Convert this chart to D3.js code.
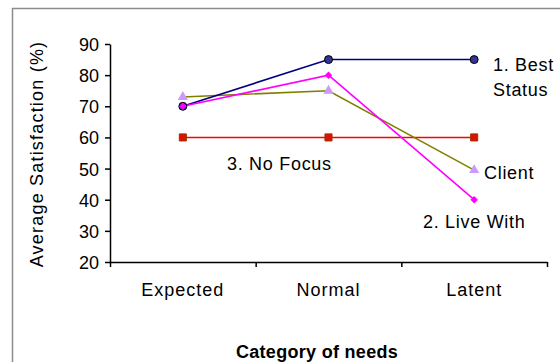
<!DOCTYPE html>
<html>
<head>
<meta charset="utf-8">
<script src="https://cdn.jsdelivr.net/npm/d3@7"></script>
<style>
    body { margin: 0; background: #fff; }
    #chart { width: 560px; height: 362px; }
    text { font-family: "Liberation Sans", Arial, sans-serif; fill: #000; }
</style>
</head>
<body>
<div id="chart"></div>
<script>
// Chart data
const categories = ['Expected', 'Normal', 'Latent'];
const bestStatus = [70, 85, 85];
const liveWith = [70, 80, 40];
const client = [73, 75, 49.5];
const noFocus = [60, 60, 60];
const yTicks = [20, 30, 40, 50, 60, 70, 80, 90];

const seriesNames = ['1. Best Status', '2. Live With', 'Client', '3. No Focus'];

// Set up dimensions
const width = 560, height = 362;
const plot = { left: 110, right: 547, top: 44, bottom: 262 };

const svg = d3.select('#chart')
    .append('svg')
    .attr('width', width)
    .attr('height', height);

// Outer frame
svg.append('rect')
    .attr('x', 12.5)
    .attr('y', 8.5)
    .attr('width', 600)
    .attr('height', 400)
    .attr('fill', '#fff')
    .attr('stroke', '#8c8c8c')
    .attr('stroke-width', 1.5);

// Scales
const xScale = d3.scaleBand()
    .domain(categories)
    .range([plot.left, plot.right]);

const xEdges = d3.scaleLinear()
    .domain([0, categories.length])
    .range([plot.left, plot.right]);

const yScale = d3.scaleLinear()
    .domain([20, 90])
    .range([plot.bottom, plot.top]);

const xPos = i => xScale(categories[i]) + xScale.bandwidth() / 2;

// Y axis
const yAxis = svg.append('g')
    .attr('transform', `translate(${plot.left},0)`)
    .call(d3.axisLeft(yScale)
        .tickValues(yTicks)
        .tickSize(5)
        .tickSizeOuter(0)
        .tickPadding(6));
yAxis.selectAll('path, line').attr('stroke', '#000').attr('stroke-width', 1.5);
yAxis.selectAll('text')
    .style('font-size', '18px')
    .style('font-family', '"Liberation Sans", Arial, sans-serif')
    .attr('dy', '0.36em');

// X axis: tick marks at category boundaries
const xAxis = svg.append('g')
    .attr('transform', `translate(0,${plot.bottom})`)
    .call(d3.axisBottom(xEdges)
        .tickValues(d3.range(categories.length + 1))
        .tickFormat('')
        .tickSize(5)
        .tickSizeOuter(0));
xAxis.selectAll('path, line').attr('stroke', '#000').attr('stroke-width', 1.5);

// X axis: category labels
const xLabels = svg.append('g')
    .attr('transform', `translate(0,${plot.bottom})`)
    .call(d3.axisBottom(xScale).tickSize(0).tickPadding(30));
xLabels.select('.domain').remove();
xLabels.selectAll('text')
    .style('font-size', '18px')
    .style('font-family', '"Liberation Sans", Arial, sans-serif')
    .style('letter-spacing', '1px')
    .attr('dy', '0.2em');

// Axis titles
svg.append('text')
    .attr('transform', 'rotate(-90)')
    .attr('x', -154)
    .attr('y', 43)
    .attr('text-anchor', 'middle')
    .style('font-size', '18px')
    .style('letter-spacing', '1.2px')
    .text('Average Satisfaction (%)');

svg.append('text')
    .attr('x', 317)
    .attr('y', 358)
    .attr('text-anchor', 'middle')
    .style('font-size', '18px')
    .style('font-weight', 'bold')
    .style('letter-spacing', '0.3px')
    .text('Category of needs');

// Series
const line = d3.line()
    .x((d, i) => xPos(i))
    .y(d => yScale(d));

const series = [
    { values: noFocus, color: '#ff0000', symbol: d3.symbolSquare, size: 50, rot: 0, fill: '#e01000', stroke: '#993300' },
    { values: client, color: '#808000', symbol: d3.symbolTriangle, size: 45, rot: 0, fill: '#cc99ff', stroke: 'none' },
    { values: bestStatus, color: '#000080', symbol: d3.symbolCircle, size: 50, rot: 0, fill: '#333399', stroke: '#000' },
    { values: liveWith, color: '#ff00ff', symbol: d3.symbolSquare, size: 28, rot: 45, fill: '#ff00ff', stroke: 'none' }
];

series.forEach(s => {
    svg.append('path')
        .datum(s.values)
        .attr('fill', 'none')
        .attr('stroke', s.color)
        .attr('stroke-width', 1.6)
        .attr('d', line);
});

series.forEach(s => {
    svg.append('g')
        .selectAll('path')
        .data(s.values)
        .enter()
        .append('path')
        .attr('transform', (d, i) => `translate(${xPos(i)},${yScale(d)}) rotate(${s.rot})`)
        .attr('d', d3.symbol().type(s.symbol).size(s.size))
        .attr('fill', s.fill)
        .attr('stroke', s.stroke)
        .attr('stroke-width', 1);
});

// Series labels
const labelStyle = sel => sel
    .style('font-size', '18px')
    .style('letter-spacing', '0.7px');

svg.append('text').attr('x', 493).attr('y', 71).call(labelStyle).text('1. Best');
svg.append('text').attr('x', 493).attr('y', 96).call(labelStyle).text('Status');
svg.append('text').attr('x', 484).attr('y', 179).call(labelStyle).text(seriesNames[2]);
svg.append('text').attr('x', 227).attr('y', 170).call(labelStyle).text(seriesNames[3]);
svg.append('text').attr('x', 423).attr('y', 228).call(labelStyle).text(seriesNames[1]);
</script>
</body>
</html>
